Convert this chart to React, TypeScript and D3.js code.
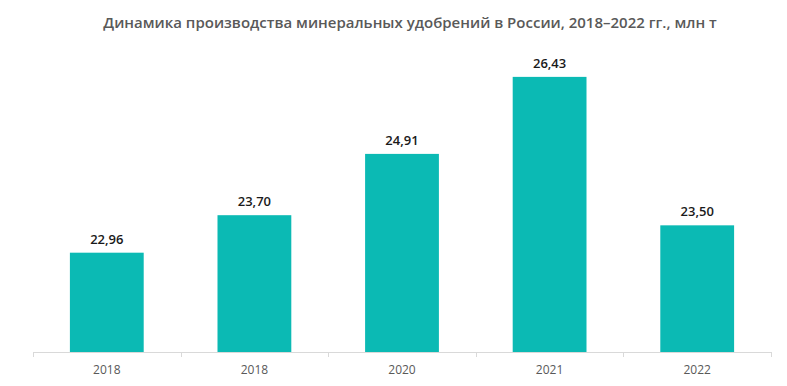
import React from "react";
import * as d3 from "d3";

const categories = ["2018", "2018", "2020", "2021", "2022"];
const values = [22.96, 23.7, 24.91, 26.43, 23.5];
const valueLabels = ["22,96", "23,70", "24,91", "26,43", "23,50"];
const title = "Динамика производства минеральных удобрений в России, 2018–2022 гг., млн т";

const W = 787;
const H = 386;
const font = "'Open Sans', 'Noto Sans', sans-serif";

export default function App() {
  const x = d3
    .scaleBand<number>()
    .domain(d3.range(categories.length))
    .range([33, 771])
    .paddingInner(0.5)
    .paddingOuter(0.25);
  const y = d3.scaleLinear().domain([21, 27]).range([352, 48]);
  const step = x.step();
  const tickXs = d3.range(categories.length + 1).map((i) => 33 + i * step);

  return (
    <svg
      width={W}
      height={H}
      style={{ position: "absolute", left: 0, top: 0, background: "#fff" }}
      fontFamily={font}
    >
      <text
        x={410}
        y={28}
        textAnchor="middle"
        fontSize={15}
        fontWeight={600}
        fill="#595959"
      >
        {title}
      </text>
      {values.map((v, i) => (
        <g key={i}>
          <rect
            x={x(i)}
            y={y(v)}
            width={x.bandwidth()}
            height={y(21) - y(v)}
            fill="#0BBAB4"
          />
          <text
            x={(x(i) as number) + x.bandwidth() / 2}
            y={y(v) - 9}
            textAnchor="middle"
            fontSize={13}
            fontWeight={600}
            fill="#1a1a1a"
          >
            {valueLabels[i]}
          </text>
          <text
            x={(x(i) as number) + x.bandwidth() / 2}
            y={374}
            textAnchor="middle"
            fontSize={12}
            fill="#595959"
          >
            {categories[i]}
          </text>
        </g>
      ))}
      <line x1={33} x2={771} y1={352.5} y2={352.5} stroke="#d9d9d9" strokeWidth={1} />
      {tickXs.map((tx, i) => (
        <line
          key={i}
          x1={Math.round(tx) + 0.5}
          x2={Math.round(tx) + 0.5}
          y1={352}
          y2={357}
          stroke="#d9d9d9"
        />
      ))}
    </svg>
  );
}
